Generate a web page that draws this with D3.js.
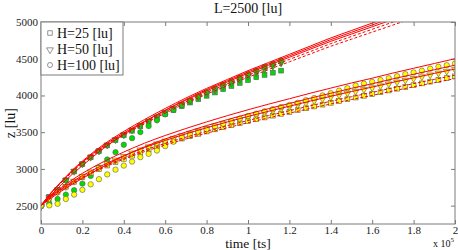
<!DOCTYPE html>
<html><head><meta charset="utf-8">
<script src="https://cdn.jsdelivr.net/npm/d3@7"></script>
<style>
body{margin:0;background:#fff;}
svg{display:block;font-family:"Liberation Serif","Times New Roman",serif;}
</style></head>
<body>
<svg id="chart" width="458" height="250"></svg>
<script>
// ---- data (time in units of 1e5 ts, z in lu) ----
const xTickValues = [0,0.2,0.4,0.6,0.8,1,1.2,1.4,1.6,1.8,2];
const xTickLabels = ["0","0.2","0.4","0.6","0.8","1","1.2","1.4","1.6","1.8","2"];
const yTickValues = [2500,3000,3500,4000,4500,5000];
const legendLabels = ["H=25 [lu]","H=50 [lu]","H=100 [lu]"];

const tLineUpper = [0,0.05,0.1,0.15,0.2,0.3,0.4,0.5,0.6,0.7,0.8,0.9,1.0,1.1,1.2,1.3,1.4,1.5,1.6,1.7,1.8];
const upperSolid1 = [2500,2682,2833,2980,3106,3328,3510,3672,3823,3965,4096,4217,4338,4449,4560,4671,4783,4884,4985,5086,5187];
const upperSolid2 = [2500,2650,2790,2925,3045,3275,3470,3640,3800,3945,4080,4200,4320,4430,4540,4650,4760,4860,4960,5060,5160];
const upperSolid3 = [2500,2678,2827,2970,3094,3312,3490,3648,3797,3935,4064,4183,4302,4411,4520,4629,4737,4836,4935,5034,5133];
const upperDash1  = [2500,2676,2822,2964,3086,3300,3476,3632,3779,3915,4042,4159,4276,4384,4491,4597,4705,4803,4901,4998,5096];
const upperDash2  = [2500,2673,2817,2956,3076,3287,3460,3614,3758,3892,4017,4132,4247,4353,4458,4564,4670,4766,4862,4958,5054];

const tLineLower = [0,0.05,0.1,0.15,0.2,0.3,0.4,0.5,0.6,0.7,0.8,0.9,1.0,1.1,1.2,1.3,1.4,1.5,1.6,1.7,1.8,1.9,2.0];
const lowerSolid1 = [2500,2640,2750,2850,2940,3095,3230,3350,3455,3550,3640,3725,3805,3882,3955,4030,4100,4170,4235,4305,4370,4435,4500];
const lowerSolid2 = [2500,2605,2700,2790,2870,3030,3175,3300,3408,3502,3590,3671,3748,3821,3891,3963,4030,4097,4159,4226,4288,4350,4412];
const lowerSolid3 = [2500,2630,2733,2826,2909,3053,3179,3291,3388,3477,3560,3639,3714,3785,3853,3923,3988,4053,4114,4179,4239,4300,4360];
const lowerDash1  = [2500,2624,2722,2811,2891,3028,3148,3255,3348,3432,3512,3588,3659,3727,3792,3859,3921,3983,4041,4103,4161,4218,4276];
const lowerDash2  = [2500,2621,2716,2803,2881,3015,3131,3235,3326,3408,3486,3560,3629,3695,3759,3823,3884,3945,4001,4061,4118,4174,4230];

const tGreen = [0,0.04,0.08,0.12,0.16,0.2,0.24,0.28,0.32,0.36,0.4,0.44,0.48,0.52,0.56,0.6,0.64,0.68,0.72,0.76,0.8,0.84,0.88,0.92,0.96,1.0,1.04,1.08,1.12,1.16];
const greenSquares   = [2500,2620,2715,2845,2965,3065,3158,3242,3320,3392,3458,3520,3580,3637,3692,3748,3800,3853,3903,3950,3995,4040,4085,4128,4170,4210,4248,4280,4310,4338];
const greenTriangles = [2500,2625,2725,2855,2978,3078,3170,3255,3335,3408,3475,3540,3602,3662,3720,3778,3834,3888,3940,3990,4040,4088,4135,4182,4228,4274,4319,4364,4408,4452];
const greenCircles   = [2500,2530,2590,2650,2710,2800,2905,3020,3128,3228,3329,3419,3501,3583,3661,3743,3805,3866,3930,3990,4045,4095,4145,4195,4245,4290,4340,4390,4430,4476];

const tYellow = [0,0.04,0.08,0.12,0.16,0.2,0.24,0.28,0.32,0.36,0.4,0.44,0.48,0.52,0.56,0.6,0.64,0.68,0.72,0.76,0.8,0.84,0.88,0.92,0.96,1.0,1.04,1.08,1.12,1.16,1.2,1.24,1.28,1.32,1.36,1.4,1.44,1.48,1.52,1.56,1.6,1.64,1.68,1.72,1.76,1.8,1.84,1.88,1.92,1.96,2.0];
const yellowSquares   = [2500,2600,2685,2757,2825,2888,2944,2996,3046,3093,3137,3180,3222,3265,3305,3342,3378,3413,3446,3478,3509,3538,3567,3595,3623,3650,3675,3700,3725,3750,3775,3800,3825,3850,3875,3900,3924,3948,3972,3996,4020,4044,4068,4092,4116,4140,4164,4188,4212,4236,4260];
const yellowTriangles = [2500,2605,2695,2770,2843,2910,2970,3027,3082,3132,3180,3227,3270,3312,3352,3390,3427,3462,3496,3529,3562,3594,3625,3655,3686,3716,3745,3773,3801,3829,3856,3884,3912,3939,3965,3991,4017,4043,4067,4091,4116,4142,4168,4194,4218,4242,4266,4291,4316,4340,4364];
const yellowCircles   = [2500,2503,2525,2590,2650,2715,2790,2860,2925,2990,3045,3100,3160,3205,3250,3310,3370,3425,3465,3505,3540,3580,3615,3650,3685,3720,3752,3784,3813,3843,3870,3900,3935,3965,4000,4030,4065,4100,4135,4160,4185,4210,4235,4262,4290,4313,4337,4365,4390,4412,4435];

// ---- layout ----
const svg = d3.select("#chart");
const L = 41, R = 455, T = 22, B = 224;
const x = d3.scaleLinear().domain([0,2]).range([L,R]);
const y = d3.scaleLinear().domain([2250,5000]).range([B,T]);
const frameColor = "#7a7a7a";

svg.append("defs").append("clipPath").attr("id","clip")
  .append("rect").attr("x",L).attr("y",T).attr("width",R-L).attr("height",B-T);

// axes (ticks inside, MATLAB style)
function styleAxis(g){
  g.select(".domain").remove();
  g.selectAll(".tick line").attr("stroke",frameColor);
  g.selectAll(".tick text").attr("fill","#1a1a1a").style("font-size","11px").style("font-family","Liberation Serif");
}
svg.append("g").attr("transform",`translate(0,${B})`)
  .call(d3.axisBottom(x).tickValues(xTickValues).tickFormat((d,i)=>xTickLabels[i]).tickSize(-4).tickPadding(2))
  .call(styleAxis);
svg.append("g").attr("transform",`translate(0,${T})`)
  .call(d3.axisTop(x).tickValues(xTickValues).tickFormat("").tickSize(-4))
  .call(styleAxis);
svg.append("g").attr("transform",`translate(${L},0)`)
  .call(d3.axisLeft(y).tickValues(yTickValues).tickFormat(d3.format("d")).tickSize(-4).tickPadding(3))
  .call(styleAxis);
svg.append("g").attr("transform",`translate(${R},0)`)
  .call(d3.axisRight(y).tickValues(yTickValues).tickFormat("").tickSize(-4))
  .call(styleAxis);

const plot = svg.append("g").attr("clip-path","url(#clip)");

// markers
const triSym = d3.symbol().type(d3.symbolTriangle).size(20);
function drawMarkers(ts, vals, shape, fill){
  const pts = ts.map((t,i)=>({t, v: vals[i]}));
  const g = plot.append("g");
  const stroke = "#5a5a5a";
  if(shape==="square"){
    g.selectAll("rect").data(pts).join("rect")
      .attr("x",d=>x(d.t)-2.4).attr("y",d=>y(d.v)-2.4).attr("width",4.8).attr("height",4.8)
      .attr("fill",fill).attr("stroke",stroke).attr("stroke-width",0.6);
  } else if(shape==="triangle"){
    g.selectAll("path").data(pts).join("path")
      .attr("d",triSym).attr("transform",d=>`translate(${x(d.t)},${y(d.v)+0.8}) rotate(180)`)
      .attr("fill",fill).attr("stroke",stroke).attr("stroke-width",0.6);
  } else {
    g.selectAll("circle").data(pts).join("circle")
      .attr("cx",d=>x(d.t)).attr("cy",d=>y(d.v)).attr("r",2.7)
      .attr("fill",fill).attr("stroke",stroke).attr("stroke-width",0.6);
  }
}
const green = "#00dc00", yellow = "#ffff00";
drawMarkers(tGreen, greenSquares, "square", green);
drawMarkers(tGreen, greenTriangles, "triangle", green);
drawMarkers(tGreen, greenCircles, "circle", green);
drawMarkers(tYellow, yellowSquares, "square", yellow);
drawMarkers(tYellow, yellowTriangles, "triangle", yellow);
drawMarkers(tYellow, yellowCircles, "circle", yellow);

// red model lines
const line = d3.line().x(d=>x(d[0])).y(d=>y(d[1])).curve(d3.curveMonotoneX);
function drawLine(ts, vals, dashed){
  plot.append("path").datum(ts.map((t,i)=>[t, vals[i]]))
    .attr("d",line).attr("fill","none").attr("stroke","#ff0000").attr("stroke-width",1)
    .attr("stroke-dasharray", dashed ? "3,2" : null);
}
[[upperSolid1,false],[upperSolid2,false],[upperSolid3,false],[upperDash1,true],[upperDash2,true]]
  .forEach(([v,d])=>drawLine(tLineUpper, v, d));
[[lowerSolid1,false],[lowerSolid2,false],[lowerSolid3,false],[lowerDash1,true],[lowerDash2,true]]
  .forEach(([v,d])=>drawLine(tLineLower, v, d));

// frame
svg.append("rect").attr("x",L).attr("y",T).attr("width",R-L).attr("height",B-T)
  .attr("fill","none").attr("stroke",frameColor).attr("stroke-width",1);

// legend
const lg = svg.append("g");
lg.append("rect").attr("x",L).attr("y",T).attr("width",82).attr("height",53)
  .attr("fill","#fff").attr("stroke",frameColor).attr("stroke-width",1);
const shapes = ["square","triangle","circle"];
legendLabels.forEach((lab,i)=>{
  const cy = T + 11 + i*16;
  const mx = 50;
  if(shapes[i]==="square") lg.append("rect").attr("x",mx-2.2).attr("y",cy-2.2).attr("width",4.4).attr("height",4.4)
      .attr("fill","#fff").attr("stroke","#666").attr("stroke-width",0.7);
  else if(shapes[i]==="triangle") lg.append("path").attr("d",triSym).attr("transform",`translate(${mx},${cy+0.8}) rotate(180)`)
      .attr("fill","#fff").attr("stroke","#666").attr("stroke-width",0.7);
  else lg.append("circle").attr("cx",mx).attr("cy",cy).attr("r",2.5)
      .attr("fill","#fff").attr("stroke","#666").attr("stroke-width",0.7);
  lg.append("text").attr("x",57).attr("y",cy+5).text(lab)
    .style("font-size","14px").attr("fill","#111");
});

// titles
svg.append("text").attr("x",248).attr("y",13).attr("text-anchor","middle")
  .style("font-size","14px").attr("fill","#111").text("L=2500 [lu]");
svg.append("text").attr("x",248).attr("y",247.5).attr("text-anchor","middle")
  .style("font-size","13.5px").attr("fill","#111").text("time [ts]");
svg.append("text").attr("transform",`translate(15,${(T+B)/2}) rotate(-90)`).attr("text-anchor","middle")
  .style("font-size","14px").attr("fill","#111").text("z [lu]");
const ex = svg.append("text").attr("x",433).attr("y",247).style("font-size","10px").attr("fill","#111");
ex.append("tspan").text("x 10");
ex.append("tspan").attr("dy",-5).style("font-size","7px").text("5");
</script>
</body></html>
